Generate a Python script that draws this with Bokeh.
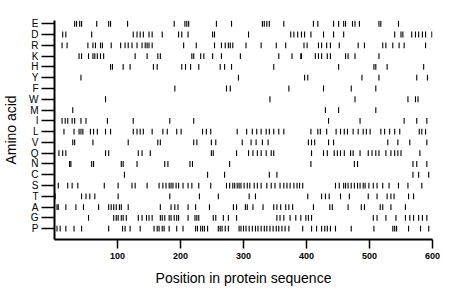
from bokeh.plotting import figure
from bokeh.models import Range1d, FixedTicker, ColumnDataSource
from bokeh.embed import file_html
from bokeh.resources import INLINE

# amino acids, top to bottom
amino_acids = ["E", "D", "R", "K", "H", "Y", "F", "W", "M", "I",
               "L", "V", "Q", "N", "C", "S", "T", "A", "G", "P"]

pos_E = [32, 35, 40, 43, 67, 86, 89, 116, 190, 207, 210, 213, 257, 281, 330, 333, 337, 341, 364,
         411, 418, 443, 451, 459, 462, 473, 477, 484, 515, 518, 546]
pos_D = [13, 18, 59, 125, 131, 136, 141, 150, 155, 171, 197, 202, 212, 251, 254, 308, 375, 380, 386,
         392, 397, 407, 427, 443, 459, 540, 550, 553, 567, 573, 578, 584, 589, 599]
pos_R = [12, 20, 53, 61, 65, 73, 76, 90, 105, 112, 117, 123, 131, 139, 144, 147, 150, 155, 205, 225,
         254, 265, 271, 276, 279, 283, 304, 328, 352, 367, 396, 401, 419, 424, 432, 438, 452, 482, 492,
         521, 526, 537, 547, 555, 589]
pos_K = [39, 43, 54, 61, 64, 68, 73, 78, 128, 147, 164, 168, 218, 221, 232, 237, 251, 265, 295, 356,
         377, 391, 392, 414, 419, 424, 433, 438, 462, 466, 477, 515]
pos_H = [89, 92, 109, 120, 157, 163, 202, 208, 216, 229, 263, 270, 281, 348, 451, 507, 510, 528, 586]
pos_Y = [42, 292, 397, 402, 488, 515, 575, 592]
pos_F = [191, 273, 279, 372, 427, 471, 510]
pos_W = [81, 342, 477, 561, 573, 577]
pos_M = [29, 430, 451, 510]
pos_I = [12, 17, 21, 28, 32, 42, 50, 84, 125, 183, 221, 435, 485, 555, 575, 591]
pos_L = [15, 31, 39, 42, 45, 57, 62, 68, 81, 89, 125, 131, 136, 141, 155, 172, 179, 194, 201, 235,
         241, 248, 290, 305, 314, 321, 328, 336, 341, 348, 356, 364, 407, 418, 422, 432, 447, 454,
         460, 465, 474, 482, 490, 495, 501, 518, 524, 532, 540, 548, 579, 583, 589]
pos_V = [29, 32, 61, 117, 164, 168, 221, 226, 249, 256, 298, 312, 320, 330, 339, 403, 408, 413, 435,
         443, 529, 545, 564, 591]
pos_Q = [7, 13, 18, 81, 86, 133, 139, 152, 249, 252, 289, 308, 315, 322, 328, 336, 344, 348, 408, 427,
         433, 444, 449, 454, 460, 470, 474, 485, 498, 504, 510, 515, 526, 534, 540, 545, 550, 580]
pos_N = [24, 26, 59, 62, 106, 109, 131, 175, 180, 215, 219, 278, 407, 476, 481, 569, 575, 591]
pos_C = [111, 243, 270, 341, 353, 569, 578, 594]
pos_S = [6, 21, 28, 37, 79, 101, 123, 128, 147, 166, 172, 177, 182, 185, 188, 193, 197, 204, 212, 218,
         229, 248, 273, 278, 283, 286, 290, 293, 296, 301, 306, 310, 317, 322, 328, 337, 344, 350, 358,
         364, 369, 374, 380, 385, 389, 394, 446, 452, 459, 462, 466, 471, 476, 481, 485, 490, 493, 499,
         506, 512, 521, 531, 546, 561, 583]
pos_T = [1, 43, 50, 56, 64, 101, 183, 230, 260, 309, 319, 402, 424, 430, 436, 454, 468, 498, 512, 528,
         534, 539, 562, 570]
pos_A = [4, 6, 18, 34, 46, 70, 86, 90, 94, 98, 103, 106, 117, 168, 185, 191, 196, 212, 224, 246, 284,
         289, 303, 306, 315, 331, 348, 353, 359, 367, 372, 378, 411, 437, 441, 466, 487, 492, 517, 521,
         534, 557]
pos_G = [54, 94, 98, 101, 106, 109, 114, 133, 139, 146, 150, 155, 168, 171, 175, 182, 185, 190, 194,
         197, 212, 223, 226, 229, 252, 256, 268, 276, 289, 353, 358, 364, 374, 383, 391, 399, 403, 408,
         506, 512, 526, 542, 557, 564, 570, 578, 584, 591]
pos_P = [4, 9, 18, 31, 43, 86, 108, 112, 120, 136, 158, 163, 166, 171, 174, 182, 194, 204, 224, 227,
         232, 235, 238, 243, 260, 263, 266, 271, 276, 293, 296, 300, 304, 309, 314, 319, 323, 328, 333,
         337, 342, 347, 352, 356, 361, 366, 372, 394, 408, 416, 424, 429, 433, 438, 446, 471, 507, 537,
         540, 543, 562, 581, 594]

positions = {
    "E": pos_E, "D": pos_D, "R": pos_R, "K": pos_K, "H": pos_H, "Y": pos_Y, "F": pos_F,
    "W": pos_W, "M": pos_M, "I": pos_I, "L": pos_L, "V": pos_V, "Q": pos_Q, "N": pos_N,
    "C": pos_C, "S": pos_S, "T": pos_T, "A": pos_A, "G": pos_G, "P": pos_P,
}

x_ticks = [100, 200, 300, 400, 500, 600]

n = len(amino_acids)
row_of = {aa: n - i for i, aa in enumerate(amino_acids)}  # E on top (20), P at bottom (1)

xs, y0s, y1s = [], [], []
half = 0.27
for aa in amino_acids:
    r = row_of[aa]
    for x in positions[aa]:
        xs.append(x)
        y0s.append(r - half)
        y1s.append(r + half)

src = ColumnDataSource(dict(x=xs, y0=y0s, y1=y1s))

p = figure(width=450, height=291, output_backend="svg", toolbar_location=None,
           x_range=Range1d(0, 600), y_range=Range1d(0, 20.3))
p.min_border_left = 50
p.min_border_right = 18
p.min_border_top = 20
p.min_border_bottom = 52
p.outline_line_color = None
p.background_fill_color = "white"
p.border_fill_color = "white"
p.xgrid.visible = False
p.ygrid.visible = False

p.segment(x0="x", x1="x", y0="y0", y1="y1", source=src, line_color="black", line_width=1.1)

font = "Liberation Sans"

xa = p.xaxis[0]
xa.ticker = FixedTicker(ticks=x_ticks)
xa.axis_label = "Position in protein sequence"
xa.axis_label_text_font = font
xa.axis_label_text_font_size = "14px"
xa.axis_label_text_font_style = "normal"
xa.axis_label_text_color = "black"
xa.axis_label_standoff = 8
xa.major_label_text_font = font
xa.major_label_text_font_size = "9px"
xa.major_label_text_font_style = "bold"
xa.major_label_text_color = "black"
xa.major_label_standoff = 4
xa.major_tick_out = 9
xa.major_tick_in = 0
xa.minor_tick_out = 0
xa.minor_tick_in = 0
xa.axis_line_width = 2
xa.axis_line_color = "black"
xa.major_tick_line_width = 1.5
xa.major_tick_line_color = "black"

ya = p.yaxis[0]
ya.ticker = FixedTicker(ticks=[row_of[aa] for aa in amino_acids])
ya.major_label_overrides = {row_of[aa]: aa for aa in amino_acids}
ya.axis_label = "Amino acid"
ya.axis_label_text_font = font
ya.axis_label_text_font_size = "14px"
ya.axis_label_text_font_style = "normal"
ya.axis_label_text_color = "black"
ya.axis_label_standoff = 7
ya.major_label_text_font = font
ya.major_label_text_font_size = "10px"
ya.major_label_text_color = "black"
ya.major_label_standoff = 3
ya.major_tick_out = 13
ya.major_tick_in = 0
ya.minor_tick_out = 0
ya.minor_tick_in = 0
ya.axis_line_width = 2
ya.axis_line_color = "black"
ya.major_tick_line_width = 1.5
ya.major_tick_line_color = "black"

open("out.html", "w").write(file_html(p, INLINE))
